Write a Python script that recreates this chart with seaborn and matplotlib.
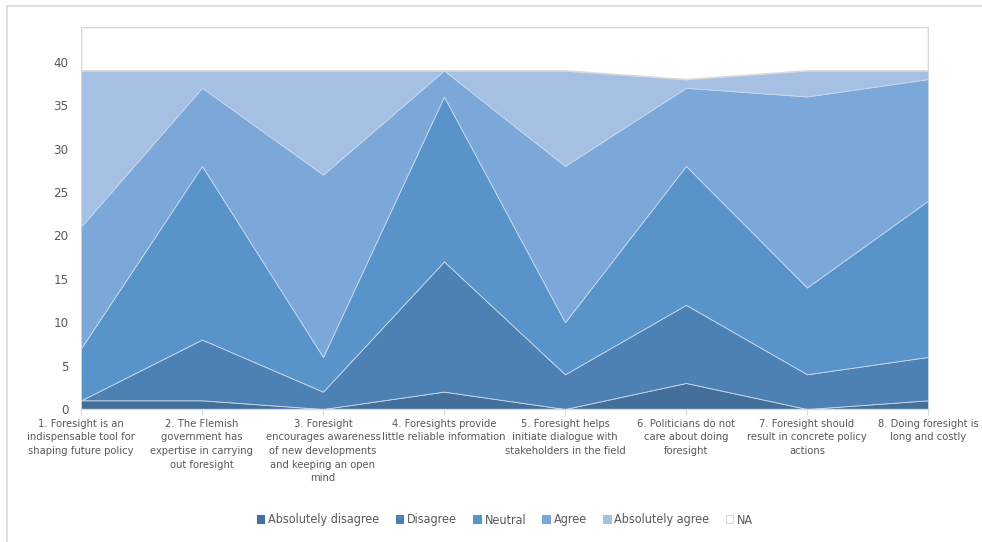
import numpy as np
import pandas as pd
import matplotlib
matplotlib.use("Agg")
import matplotlib.pyplot as plt
from matplotlib.patches import Patch
from matplotlib.lines import Line2D
from matplotlib import font_manager
import seaborn as sns

# Statements (x axis)
statements = [
    "1. Foresight is an\nindispensable tool for\nshaping future policy",
    "2. The Flemish\ngovernment has\nexpertise in carrying\nout foresight",
    "3. Foresight\nencourages awareness\nof new developments\nand keeping an open\nmind",
    "4. Foresights provide\nlittle reliable information",
    "5. Foresight helps\ninitiate dialogue with\nstakeholders in the field",
    "6. Politicians do not\ncare about doing\nforesight",
    "7. Foresight should\nresult in concrete policy\nactions",
    "8. Doing foresight is\nlong and costly",
]

# Number of answers per category
absolutely_disagree = [1, 1, 0, 2, 0, 3, 0, 1]
disagree = [0, 7, 2, 15, 4, 9, 4, 5]
neutral = [6, 20, 4, 19, 6, 16, 10, 18]
agree = [14, 9, 21, 3, 18, 9, 22, 14]
absolutely_agree = [18, 2, 12, 0, 11, 1, 3, 1]
no_answer = [5, 5, 5, 5, 5, 6, 5, 5]

series_names = ["Absolutely disagree", "Disagree", "Neutral", "Agree",
                "Absolutely agree", "NA"]
colors = ["#436f9b", "#4d81b3", "#5894ca", "#7ba8d8", "#a5c0e3", "#ffffff"]

df = pd.DataFrame({
    "Absolutely disagree": absolutely_disagree,
    "Disagree": disagree,
    "Neutral": neutral,
    "Agree": agree,
    "Absolutely agree": absolutely_agree,
    "NA": no_answer,
}, index=range(len(statements)))

sns.set_theme(style="white")

# look for a narrow face, like the Arial Narrow of the original
narrow = [f for f in font_manager.fontManager.ttflist
          if f.name == "DejaVu Sans" and "condensed" in str(f.stretch)]
plt.rcParams["font.family"] = ["DejaVu Sans"]
stretch = "condensed" if narrow else "normal"
lab_size = 8 if narrow else 7.5
plt.rcParams["font.stretch"] = stretch
text_font = font_manager.FontProperties(family="DejaVu Sans", stretch=stretch,
                                        size=lab_size + 1)

fig = plt.figure(figsize=(9.82, 5.42), dpi=100)
ax = fig.add_axes([81 / 982, 1 - 409 / 542, (928 - 81) / 982, (409 - 27) / 542])

x = df.index.values
polys = ax.stackplot(x, *[df[c].values for c in series_names], colors=colors,
                     edgecolor="#c9d9ec", linewidth=0.6)
# NA area gets a grey outline like the original
polys[-1].set_edgecolor("#d9d9d9")
polys[-1].set_linewidth(1.2)

ax.set_xlim(0, len(statements) - 1)
ax.set_ylim(0, 44)
ax.set_yticks(np.arange(0, 41, 5))
ax.set_xticks(x)
ax.set_xticklabels(statements, fontsize=lab_size, color="#595959", linespacing=1.45,
                   fontstretch=stretch)
ax.tick_params(axis="y", labelsize=lab_size + 1.5, colors="#595959", length=0, pad=9)
ax.tick_params(axis="x", length=4, width=0.8, color="#d9d9d9", pad=3, bottom=True)

for s in ["left", "right", "top"]:
    ax.spines[s].set_visible(False)
ax.spines["bottom"].set_color("#d9d9d9")
ax.spines["bottom"].set_linewidth(1)

handles = []
for name, c in zip(series_names, colors):
    ec = "#d9d9d9" if name == "NA" else c
    handles.append(Patch(facecolor=c, edgecolor=ec, linewidth=0.8))
fig.legend(handles, series_names, loc="center",
           bbox_to_anchor=(505 / 982, 1 - 520 / 542),
           ncol=6, frameon=False, prop=text_font,
           handlelength=0.6, handleheight=0.6,
           handletextpad=0.3, columnspacing=1.3, labelcolor="#595959")

# chart area border
fig.add_artist(Line2D([7 / 982, 7 / 982], [0, 1 - 6 / 542], transform=fig.transFigure,
                      color="#d9d9d9", linewidth=1.2))
fig.add_artist(Line2D([7 / 982, 1], [1 - 6 / 542, 1 - 6 / 542], transform=fig.transFigure,
                      color="#d9d9d9", linewidth=1.2))

fig.savefig("out.png", dpi=100)
